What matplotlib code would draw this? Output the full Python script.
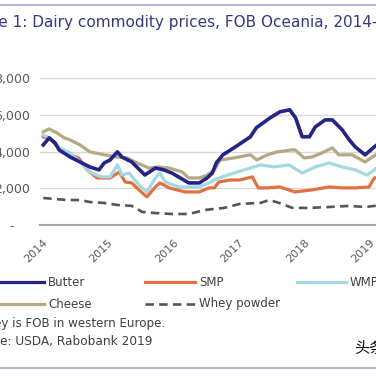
import matplotlib
matplotlib.use("Agg")
import matplotlib.pyplot as plt
from matplotlib.lines import Line2D

# values (USD/tonne), x = decimal year
butter_t = [2014.02, 2014.11, 2014.20, 2014.26, 2014.43, 2014.58, 2014.73, 2014.87, 2014.95,
            2015.04, 2015.15, 2015.22, 2015.37, 2015.57, 2015.73, 2015.86, 2015.98, 2016.24,
            2016.40, 2016.52, 2016.60, 2016.66, 2016.76, 2016.95, 2017.18, 2017.27, 2017.48,
            2017.63, 2017.78, 2017.87, 2017.97, 2018.08, 2018.17, 2018.32, 2018.43, 2018.58,
            2018.69, 2018.78, 2018.93, 2019.07, 2019.20]
butter = [4360, 4740, 4470, 4090, 3700, 3430, 3160, 3000, 3380,
          3540, 3980, 3700, 3430, 2720, 3100, 3000, 2830, 2290,
          2290, 2560, 2830, 3380, 3820, 4250, 4800, 5290, 5830,
          6160, 6270, 5830, 4800, 4800, 5340, 5720, 5720, 5180,
          4630, 4250, 3820, 4250, 4600]

cheese_t = [2014.02, 2014.11, 2014.23, 2014.34, 2014.43, 2014.58, 2014.73, 2014.95, 2015.15,
            2015.30, 2015.42, 2015.63, 2015.79, 2015.94, 2016.14, 2016.24, 2016.40, 2016.52,
            2016.63, 2016.72, 2016.93, 2017.18, 2017.28, 2017.44, 2017.59, 2017.82, 2017.86,
            2018.00, 2018.12, 2018.27, 2018.43, 2018.53, 2018.73, 2018.93, 2019.04, 2019.20]
cheese = [5070, 5230, 5010, 4740, 4630, 4360, 3980, 3820, 3700,
          3650, 3430, 3100, 3160, 3100, 2890, 2560, 2560, 2720,
          3000, 3540, 3650, 3820, 3540, 3820, 3980, 4090, 4090,
          3650, 3700, 3920, 4200, 3820, 3820, 3430, 3700, 4050]

wmp_t = [2014.02, 2014.12, 2014.27, 2014.43, 2014.58, 2014.73, 2014.89, 2015.04, 2015.15,
         2015.22, 2015.33, 2015.48, 2015.60, 2015.73, 2015.80, 2015.88, 2016.09, 2016.40,
         2016.55, 2016.63, 2016.75, 2016.93, 2017.18, 2017.33, 2017.54, 2017.77, 2017.97,
         2018.17, 2018.38, 2018.58, 2018.78, 2018.96, 2019.07, 2019.20]
wmp = [4900, 4740, 4200, 3920, 3430, 2890, 2620, 2620, 3270,
       2720, 2830, 2180, 1800, 2560, 2830, 2340, 2070, 2070,
       2290, 2450, 2620, 2830, 3100, 3270, 3160, 3270, 2830,
       3160, 3380, 3160, 3000, 2720, 3000, 3350]

smp_t = [2014.02, 2014.12, 2014.27, 2014.43, 2014.56, 2014.69, 2014.84, 2015.04, 2015.18,
         2015.27, 2015.37, 2015.48, 2015.60, 2015.73, 2015.80, 2015.94, 2016.18, 2016.40,
         2016.55, 2016.63, 2016.70, 2016.87, 2017.02, 2017.21, 2017.30, 2017.44, 2017.63,
         2017.86, 2018.12, 2018.38, 2018.58, 2018.78, 2018.99, 2019.07, 2019.20]
smp = [4800, 4700, 4150, 3820, 3650, 3000, 2560, 2560, 2890,
       2340, 2290, 1910, 1530, 2070, 2290, 2020, 1800, 1800,
       2020, 2020, 2340, 2450, 2450, 2620, 2020, 2020, 2070,
       1800, 1910, 2070, 2020, 2020, 2070, 2560, 2650]

whey_t = [2014.02, 2014.38, 2014.58, 2014.73, 2014.95, 2015.15, 2015.37, 2015.53, 2015.73,
          2015.98, 2016.24, 2016.49, 2016.78, 2017.02, 2017.33, 2017.47, 2017.62, 2017.82,
          2018.08, 2018.38, 2018.69, 2018.93, 2019.20]
whey = [1470, 1360, 1360, 1250, 1200, 1090, 1040, 710, 650,
        600, 600, 820, 930, 1150, 1200, 1360, 1200, 930,
        930, 980, 1040, 980, 1090]

years = [2014, 2015, 2016, 2017, 2018, 2019]
y_ticks = [0, 2000, 4000, 6000, 8000]
y_labels = ["-    ", "2,000", "4,000", "6,000", "8,000"]

NAVY, ORANGE, CYAN, KHAKI, GREY = "#23238a", "#e2713f", "#a3d9e0", "#b4a983", "#555555"
TXT = "#404040"
plt.rcParams["font.family"] = ["DejaVu Sans"]

W = H = 376.0
fig = plt.figure(figsize=(3.76, 3.76), dpi=100)


def fx(px):
    return px / W


def fy(py):
    return 1 - py / H


ax = fig.add_axes([fx(40), fy(225), fx(369), 147 / H])

ax.plot(cheese_t, cheese, color=KHAKI, lw=2.3, solid_joinstyle="round")
ax.plot(smp_t, smp, color=ORANGE, lw=2.3, solid_joinstyle="round")
ax.plot(wmp_t, wmp, color=CYAN, lw=2.3, solid_joinstyle="round")
ax.plot(butter_t, butter, color=NAVY, lw=2.6, solid_joinstyle="round")
ax.plot(whey_t, whey, color=GREY, lw=1.9, dashes=(3.2, 2.0))

ax.set_xlim(2013.97, 2019.6)
ax.set_ylim(0, 8000)
ax.set_yticks(y_ticks, y_labels)
ax.set_xticks(years, [str(y) for y in years])
for lbl in ax.get_xticklabels():
    lbl.set_rotation(45)
    lbl.set_ha("right")
    lbl.set_rotation_mode("anchor")
ax.tick_params(axis="both", length=0, colors="#595959")
ax.tick_params(axis="y", pad=7, labelsize=9)
ax.tick_params(axis="x", pad=9, labelsize=8)
ax.grid(axis="y", color="#d9d9d9", lw=1)
ax.set_axisbelow(True)
for s in ["top", "right", "left"]:
    ax.spines[s].set_visible(False)
ax.spines["bottom"].set_color("#a6a6a6")
ax.spines["bottom"].set_linewidth(1.5)

# title and rules
fig.text(fx(-39), fy(22), "Figure 1: Dairy commodity prices, FOB Oceania, 2014-19",
         fontsize=11, color="#34378a", ha="left", va="center")
fig.add_artist(Line2D([0, 1], [fy(5), fy(5)], color="#b9b5d2", lw=1.5))
fig.add_artist(Line2D([0, 1], [fy(368), fy(368)], color="#b9b5d2", lw=1.5))

# legend drawn by hand in three columns
entries = [
    ("Butter", NAVY, None, -10, 44, 282),
    ("SMP", ORANGE, None, 145, 195, 282),
    ("WMP", CYAN, None, 297, 346, 282),
    ("Cheese", KHAKI, None, -10, 44, 304),
    ("Whey powder", GREY, (3.2, 2.0), 145, 195, 304),
]
for name, col, dash, x0, x1, yy in entries:
    ln = Line2D([fx(x0), fx(x1)], [fy(yy), fy(yy)], color=col, lw=2.3 if dash is None else 1.9)
    if dash:
        ln.set_dashes(dash)
    fig.add_artist(ln)
    fig.text(fx(x1 + 4), fy(yy), name, fontsize=8.5, color=TXT, ha="left", va="center")

fig.text(fx(165), fy(323), "Note: Whey is FOB in western Europe.", fontsize=8.6,
         color=TXT, ha="right", va="center")
fig.text(fx(152), fy(342), "Source: USDA, Rabobank 2019", fontsize=8.7,
         color=TXT, ha="right", va="center")
fig.text(fx(354), fy(349), "头条", fontsize=11, color="#111111", ha="left", va="center",
         family=["Noto Sans CJK SC", "DejaVu Sans"])

fig.savefig("out.png", dpi=100)
